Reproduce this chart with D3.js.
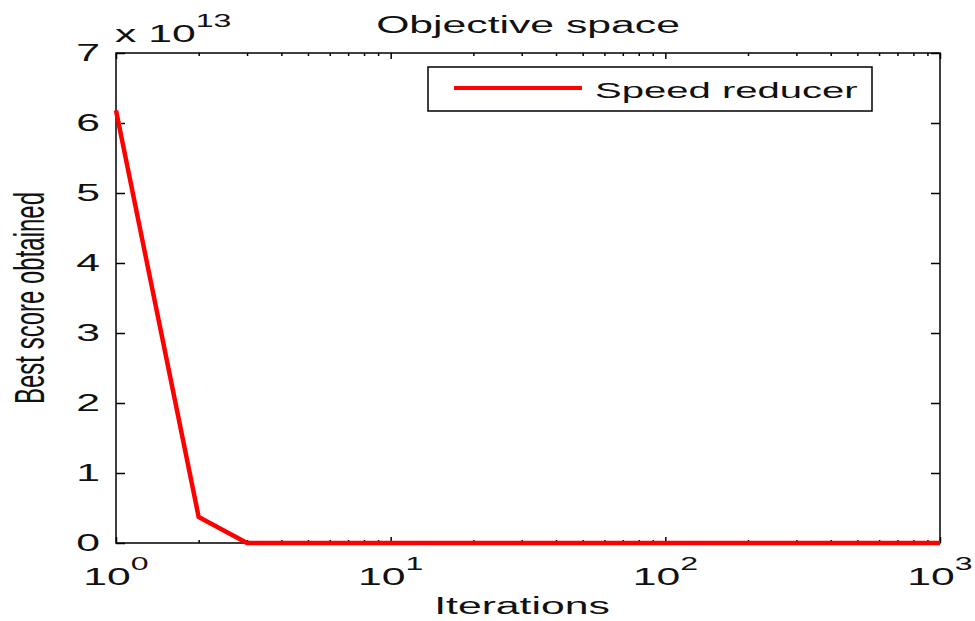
<!DOCTYPE html>
<html>
<head>
<meta charset="utf-8">
<title>Objective space</title>
<script src="https://cdn.jsdelivr.net/npm/d3@7"></script>
<style>
body { margin: 0; background: #fff; }
text { font-family: "Liberation Sans", Arial, Helvetica, sans-serif; fill: #111; font-size: 24px; }
.axis path, .axis line { stroke: #000; stroke-width: 1.5; }
</style>
</head>
<body>
<svg width="975" height="621"></svg>
<script>
// values
var iterations = [1, 2, 3, 4, 5, 10, 20, 50, 100, 200, 500, 1000];
var bestScore  = [6.18e13, 0.37e13, 0.001e13, 0, 0, 0, 0, 0, 0, 0, 0, 0];
var yTicks = [0, 1, 2, 3, 4, 5, 6, 7];
var xDecades = [0, 1, 2, 3];
var seriesName = "Speed reducer";
var chartTitle = "Objective space";
var xTitle = "Iterations";
var yTitle = "Best score obtained";

var plotL = 116, plotR = 940, plotT = 53, plotB = 543;
var sx = 1.78; // the original picture is stretched sideways, text too

var svg = d3.select("svg");

var x = d3.scaleLog().domain([1, 1000]).range([plotL, plotR]);
var y = d3.scaleLinear().domain([0, 7e13]).range([plotB, plotT]);

var majors = xDecades.map(function(k) { return Math.pow(10, k); });
var minors = x.ticks().filter(function(t) { return majors.indexOf(t) < 0; });

// frame
svg.append("rect")
  .attr("x", plotL).attr("y", plotT)
  .attr("width", plotR - plotL).attr("height", plotB - plotT)
  .style("fill", "none").style("stroke", "#000").style("stroke-width", 1.5);

// ticks, all pointing inward
function ticks(axis, tx, ty) {
  svg.append("g").attr("class", "axis")
    .attr("transform", "translate(" + tx + "," + ty + ")")
    .call(axis.tickSizeOuter(0).tickFormat(""))
    .select(".domain").remove();
}
var yVals = yTicks.map(function(v) { return v * 1e13; });
ticks(d3.axisBottom(x).tickValues(majors).tickSizeInner(-6), 0, plotB);
ticks(d3.axisBottom(x).tickValues(minors).tickSizeInner(-3), 0, plotB);
ticks(d3.axisTop(x).tickValues(majors).tickSizeInner(-6), 0, plotT);
ticks(d3.axisTop(x).tickValues(minors).tickSizeInner(-3), 0, plotT);
ticks(d3.axisLeft(y).tickValues(yVals).tickSizeInner(-9), plotL, 0);
ticks(d3.axisRight(y).tickValues(yVals).tickSizeInner(-9), plotR, 0);

// stretched text helper
function label(str, px, py, anchor) {
  return svg.append("text")
    .attr("transform", "translate(" + px + "," + py + ") scale(" + sx + ",1)")
    .attr("text-anchor", anchor)
    .text(str);
}

// y tick labels
yTicks.forEach(function(v) {
  label(v, 100, y(v * 1e13) + 8, "end");
});

// x tick labels 10^k
xDecades.forEach(function(k) {
  var t = label("10", x(Math.pow(10, k)), 585, "middle");
  t.append("tspan").attr("dy", -15).style("font-size", "18px").text(k);
});

// exponent note
var e = label("x 10", 115, 42, "start");
e.append("tspan").attr("dy", -15).style("font-size", "18px").text("13");

label(chartTitle, 528, 33, "middle");
label(xTitle, 522, 614, "middle");

svg.append("text")
  .attr("transform", "translate(44," + ((plotT + plotB) / 2) + ") scale(" + sx + ",1) rotate(-90)")
  .attr("text-anchor", "middle")
  .text(yTitle);

// the series
svg.append("path")
  .datum(iterations)
  .attr("d", d3.line()
    .x(function(d) { return x(d); })
    .y(function(d, i) { return y(bestScore[i]); }))
  .style("fill", "none")
  .style("stroke", "#ff0000")
  .style("stroke-width", 4.5)
  .style("stroke-linejoin", "round");

// legend
svg.append("rect")
  .attr("x", 428).attr("y", 67).attr("width", 444).attr("height", 44)
  .style("fill", "#fff").style("stroke", "#000").style("stroke-width", 1.5);
svg.append("line")
  .attr("x1", 454).attr("x2", 582).attr("y1", 88).attr("y2", 88)
  .style("stroke", "#ff0000").style("stroke-width", 4);
label(seriesName, 595, 98, "start").style("font-size", "22.5px");
</script>
</body>
</html>
